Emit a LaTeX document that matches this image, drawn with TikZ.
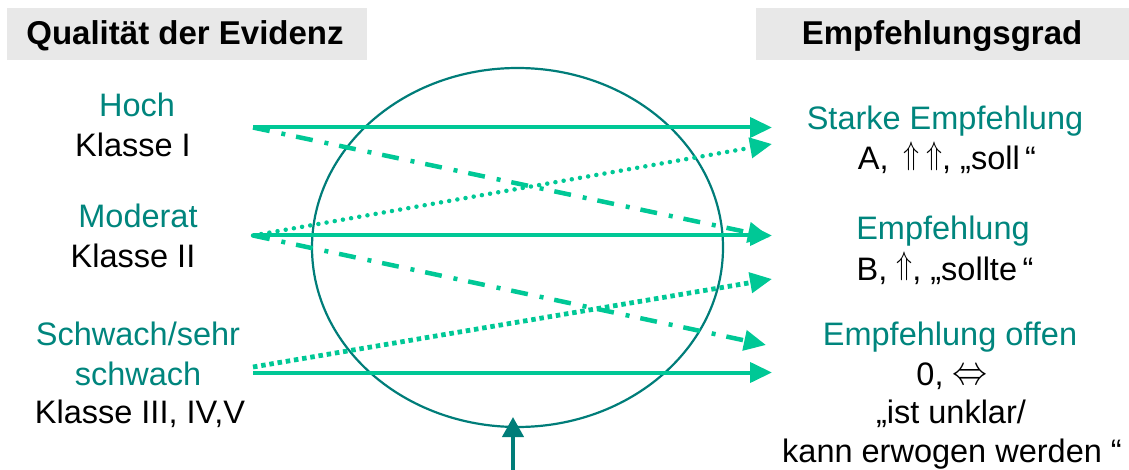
\documentclass[tikz,border=0pt]{standalone}
\usepackage{graphicx}
\usepackage{fontspec}
\setmainfont{Liberation Sans}
\usetikzlibrary{arrows.meta,shapes.geometric}
\definecolor{hdrgray}{HTML}{E8E8E8}
\definecolor{tealtext}{HTML}{00857D}
\definecolor{tealring}{HTML}{007D79}
\definecolor{mint}{HTML}{00C896}
% grade symbols, sized to the text
\newcommand{\upsym}{\smash{\raisebox{5.3pt}{\resizebox*{16pt}{29pt}{$\Uparrow$}}}}
\newcommand{\bothsym}{\smash{\raisebox{0.5pt}{\resizebox*{35pt}{15pt}{$\Leftrightarrow$}}}}

\begin{document}
\begin{tikzpicture}[x=1pt,y=-1pt,
  hdrbox/.style={fill=hdrgray, draw=none},
  hdr/.style={font=\fontsize{33}{38}\selectfont\bfseries, anchor=base, inner sep=0pt},
  grade/.style={font=\fontsize{32.5}{40}\selectfont, text=tealtext, anchor=base, inner sep=0pt},
  plain/.style={font=\fontsize{32.5}{40}\selectfont, text=black, anchor=base, inner sep=0pt},
  tip/.style={-{Triangle[length=22pt,width=20pt]}},
  link/.style={draw=mint, line width=4pt, tip},
  solidlink/.style={link},
  dashdotlink/.style={link, line width=4.5pt, dash pattern=on 17pt off 12pt on 4pt off 11pt},
  finedots/.style={link, line width=4.5pt, line cap=round, dash pattern=on 0pt off 8.3pt},
  squaredots/.style={link, line width=4.8pt, dash pattern=on 4.5pt off 3.8pt}
]
\useasboundingbox (0,0) rectangle (1129,470);

% header bars
\path[hdrbox] (7,8) rectangle (367,60);
\path[hdrbox] (756,8) rectangle (1129,60);
\node[hdr] (hleft) at (185,45) {Qualität der Evidenz};
\node[hdr] (hright) at (942,45) {Empfehlungsgrad};

% evidence levels
\node[grade] (hoch) at (137,117) {Hoch};
\node[plain] (kl1) at (133,157) {Klasse I};
\node[grade] (moderat) at (138,228) {Moderat};
\node[plain] (kl2) at (133,268) {Klasse II};
\node[grade] (schwach1) at (138,345) {Schwach/sehr};
\node[grade] (schwach2) at (138,385) {schwach};
\node[plain] (kl3) at (140,423) {Klasse III, IV,V};

% recommendation grades
\node[grade] (starke) at (945,130) {Starke Empfehlung};
\node[plain] (gradeA) at (947,170) {A, \,\upsym\hspace{7pt}\upsym, „soll\,“};
\node[grade] (empf) at (943,240) {Empfehlung};
\node[plain] (gradeB) at (945,280) {B, \upsym, „sollte\,“};
\node[grade] (offen) at (950,345) {Empfehlung offen};
\node[plain] (grade0) at (952,385) {0, \bothsym};
\node[plain] (unklar) at (951,423) {„ist unklar/};
\node[plain] (erwogen) at (952,462) {kann erwogen werden “};

% consideration ring
\node[ellipse, draw=tealring, line width=2.2pt, minimum width=411pt,
      minimum height=359pt, inner sep=0pt] (ring) at (517.5,247.5) {};

% arrow anchors
\coordinate (sH) at (253,127.5);
\coordinate (sM) at (253,235.5);
\coordinate (sS) at (253,372.5);
\coordinate (sSd) at (253,367);
\coordinate (tA) at (772,127.5);
\coordinate (tAd) at (772,144);
\coordinate (tB) at (772,235.5);
\coordinate (tBd) at (770,237);
\coordinate (tOd) at (766,345);
\coordinate (tOdots) at (772,279);
\coordinate (t0) at (772,372.5);
\coordinate (upfoot) at (513,470);
\coordinate (uptip) at (513,417);

% mappings from evidence to grade
\draw[solidlink] (sH) -- (tA);
\draw[dashdotlink] (sH) -- (tBd);
\draw[finedots] (sM) -- (tAd);
\draw[solidlink] (sM) -- (tB);
\draw[dashdotlink] (sM) -- (tOd);
\draw[squaredots] (sSd) -- (tOdots);
\draw[solidlink] (sS) -- (t0);

% influence from below
\draw[draw=tealring, line width=4pt, -{Triangle[length=20pt,width=21pt]}] (upfoot) -- (uptip);
\end{tikzpicture}
\end{document}
